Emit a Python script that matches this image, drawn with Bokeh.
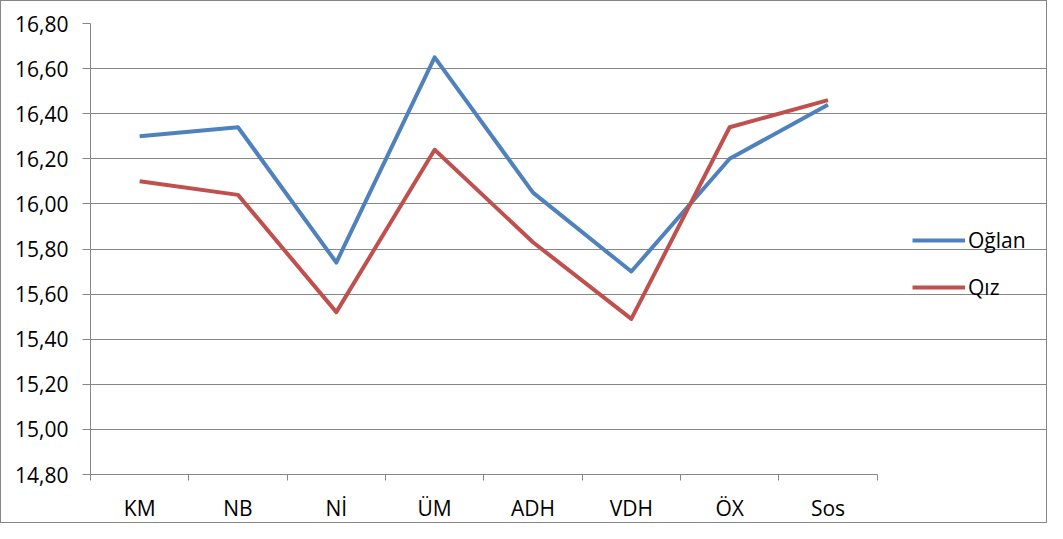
from bokeh.plotting import figure
from bokeh.models import (Range1d, FixedTicker, CustomJSTickFormatter, Legend, LegendItem)
from bokeh.embed import file_html
from bokeh.resources import INLINE

categories = ["KM", "NB", "Nİ", "ÜM", "ADH", "VDH", "ÖX", "Sos"]
oglan = [16.30, 16.34, 15.74, 16.65, 16.05, 15.70, 16.20, 16.44]
qiz = [16.10, 16.04, 15.52, 16.24, 15.83, 15.49, 16.34, 16.46]
y_ticks = [14.8, 15.0, 15.2, 15.4, 15.6, 15.8, 16.0, 16.2, 16.4, 16.6, 16.8]

FONT = "Open Sans"
FSIZE = "21px"
GRAY = "#868686"

W, H = 1047, 523
LEFT, TOP = 89, 22
PLOT_W, PLOT_H = 785, 450          # pixel size of the data area
inner_w = W - 2 - LEFT              # frame stretches to the right edge (room for legend)
n = len(categories)
x_end = n * inner_w / PLOT_W

xs = [i + 0.5 for i in range(n)]

p = figure(width=W, height=H, output_backend="svg", toolbar_location=None,
           x_range=Range1d(0, x_end), y_range=Range1d(14.8, 16.8),
           min_border_left=LEFT, min_border_top=TOP, min_border_right=0,
           min_border_bottom=H - 2 - TOP - PLOT_H)
p.styles = {"border": "1px solid " + GRAY, "box-sizing": "border-box"}
p.outline_line_color = None
p.background_fill_color = "white"

r1 = p.line(xs, oglan, line_color="#4F81BD", line_width=4, line_join="round")
r2 = p.line(xs, qiz, line_color="#C0504D", line_width=4, line_join="round")

# y axis
p.yaxis.ticker = FixedTicker(ticks=y_ticks)
p.yaxis.formatter = CustomJSTickFormatter(code="return tick.toFixed(2).replace('.', ',');")
p.yaxis.axis_line_color = GRAY
p.yaxis.major_tick_line_color = GRAY
p.yaxis.major_tick_out = 8
p.yaxis.major_tick_in = 0
p.yaxis.minor_tick_line_color = None
p.yaxis.major_label_text_font = FONT
p.yaxis.major_label_text_font_size = FSIZE
p.yaxis.major_label_text_color = "black"
p.yaxis.major_label_standoff = 14

# x axis
p.xaxis.ticker = FixedTicker(ticks=xs, minor_ticks=list(range(n + 1)))
p.xaxis.formatter = CustomJSTickFormatter(args=dict(cats=categories),
                                          code="return cats[Math.round(tick - 0.5)];")
p.xaxis.bounds = (0, n)
p.xaxis.axis_line_color = GRAY
p.xaxis.major_tick_line_color = None
p.xaxis.major_tick_out = 0
p.xaxis.major_tick_in = 0
p.xaxis.minor_tick_line_color = GRAY
p.xaxis.minor_tick_out = 6
p.xaxis.minor_tick_in = 0
p.xaxis.major_label_text_font = FONT
p.xaxis.major_label_text_font_size = FSIZE
p.xaxis.major_label_text_color = "black"
p.xaxis.major_label_standoff = 13

p.xgrid.grid_line_color = None
p.ygrid.ticker = FixedTicker(ticks=y_ticks)
p.ygrid.bounds = (0, n)
p.ygrid.grid_line_color = GRAY
p.ygrid.grid_line_width = 1

legend = Legend(items=[LegendItem(label="Oğlan", renderers=[r1]),
                       LegendItem(label="Qız", renderers=[r2])],
                location=(PLOT_W + 37, 173), orientation="vertical")
legend.label_text_font = FONT
legend.label_text_font_size = FSIZE
legend.label_text_color = "black"
legend.glyph_width = 53
legend.glyph_height = 20
legend.label_height = 20
legend.label_standoff = 3
legend.spacing = 19
legend.padding = 0
legend.margin = 0
legend.border_line_color = None
legend.background_fill_alpha = 0
p.add_layout(legend, "center")

open("out.html", "w").write(file_html(p, INLINE))
